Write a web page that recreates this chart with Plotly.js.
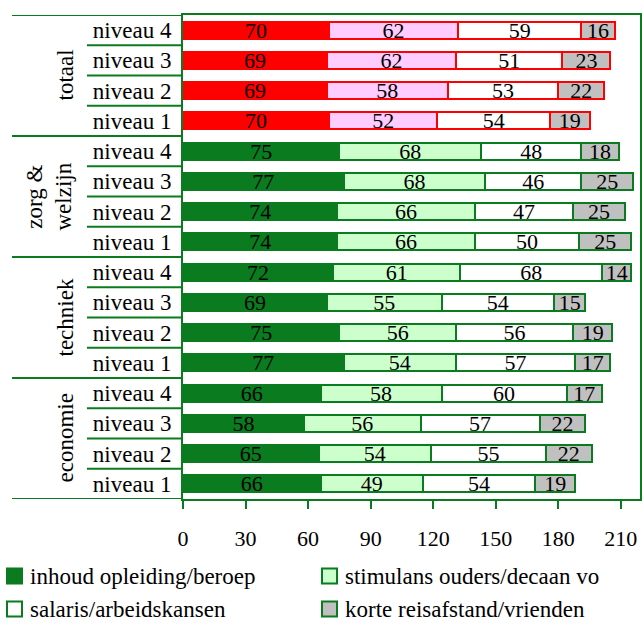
<!DOCTYPE html>
<html>
<head>
<meta charset="utf-8">
<script src="https://cdn.plot.ly/plotly-3.0.1.min.js"></script>
<style>html,body{margin:0;padding:0;background:#fff;}#chart{width:642px;height:623px;}</style>
</head>
<body>
<div id="chart"></div>
<script>
// ---- data (rows listed top to bottom as in the chart) ----
const groups = ['totaal', 'zorg & welzijn', 'techniek', 'economie'];
const groupLabels = ['totaal', 'zorg &<br>welzijn', 'techniek', 'economie'];
const levels = ['niveau 4', 'niveau 3', 'niveau 2', 'niveau 1'];
const seriesNames = ['inhoud opleiding/beroep', 'stimulans ouders/decaan vo', 'salaris/arbeidskansen', 'korte reisafstand/vrienden'];
const inhoud    = [70, 69, 69, 70,  75, 77, 74, 74,  72, 69, 75, 77,  66, 58, 65, 66];
const stimulans = [62, 62, 58, 52,  68, 68, 66, 66,  61, 55, 56, 54,  58, 56, 54, 49];
const salaris   = [59, 51, 53, 54,  48, 46, 47, 50,  68, 54, 56, 57,  60, 57, 55, 54];
const korte     = [16, 23, 22, 19,  18, 25, 25, 25,  14, 15, 19, 17,  17, 22, 22, 19];
const xTicks = [0, 30, 60, 90, 120, 150, 180, 210];

// ---- styling ----
const FONT = 'Liberation Serif, Times New Roman, serif';
const GREEN = '#0a7b1f';
const RED = '#ff0000';
const fillsGreen = [GREEN, '#ccffcc', '#ffffff', '#c0c0c0'];
const fillsRed = [RED, '#ffccff', '#ffffff', '#c0c0c0'];

// build row ids top-to-bottom, then plot bottom-to-top
const rowIds = [], rowLevels = [], rowGroup = [];
groups.forEach((g, gi) => levels.forEach(l => { rowIds.push(g + ' | ' + l); rowLevels.push(l); rowGroup.push(gi); }));
const order = rowIds.map((_, i) => rowIds.length - 1 - i); // bottom first
const ids = order.map(i => rowIds[i]);
const seriesVals = [inhoud, stimulans, salaris, korte];

const traces = seriesVals.map((vals, si) => {
  const v = order.map(i => vals[i]);
  const fill = order.map(i => rowGroup[i] === 0 ? fillsRed[si] : fillsGreen[si]);
  const line = order.map(i => rowGroup[i] === 0 ? RED : GREEN);
  return {
    type: 'bar', orientation: 'h', name: seriesNames[si],
    x: v, y: ids, width: 0.56,
    text: v.map(String), textposition: 'inside', insidetextanchor: 'middle',
    textangle: 0, constraintext: 'none', cliponaxis: false,
    textfont: {family: FONT, size: 22, color: '#000'},
    insidetextfont: {family: FONT, size: 22, color: '#000'},
    marker: {color: fill, line: {color: line, width: 2}},
    hoverinfo: 'skip', showlegend: false
  };
});

// pixel helpers for paper coordinates (plot area: x 183..640, y 15..499)
const L = 183, R = 2, T = 15, B = 124, W = 642, H = 623;
const PW = W - L - R, PH = H - T - B;
const px = p => (p - L) / PW;
const py = p => (H - B - p) / PH;

const shapes = [];
const n = ids.length;
// group dividers (long) and level dividers (short)
for (let k = 0; k <= n; k++) {
  const yb = k - 0.5;
  const isGroup = (k % 4 === 0);
  shapes.push({type: 'line', xref: 'paper', yref: 'y', x0: px(isGroup ? 12 : 87), x1: 0, y0: yb, y1: yb,
               line: {color: GREEN, width: 2}});
}
const annotations = [];
// group labels
groups.forEach((g, gi) => {
  const centerIdx = (groups.length - 1 - gi) * 4 + 1.5;
  annotations.push({xref: 'paper', yref: 'y', x: px(gi === 1 ? 49 : 65), y: centerIdx,
    text: groupLabels[gi], textangle: -90, showarrow: false, xanchor: 'center', yanchor: 'middle',
    font: {family: FONT, size: 23, color: '#000'}});
});
// legend (manual, two columns)
const legPos = [[7, 576], [322, 576], [7, 609], [322, 609]];
seriesNames.forEach((nm, si) => {
  const [lx, ly] = legPos[si];
  shapes.push({type: 'rect', xref: 'paper', yref: 'paper', x0: px(lx), x1: px(lx + 15), y0: py(ly - 7.5), y1: py(ly + 7.5),
               fillcolor: fillsGreen[si], line: {color: GREEN, width: 2}});
  annotations.push({xref: 'paper', yref: 'paper', x: px(lx + 22), y: py(ly), xanchor: 'left', yanchor: 'middle',
    text: nm, showarrow: false, borderpad: 0, font: {family: FONT, size: 23, color: '#000'}});
});

const layout = {
  width: W, height: H,
  margin: {l: L, r: R, t: T, b: B, pad: 0},
  paper_bgcolor: '#fff', plot_bgcolor: '#fff',
  barmode: 'stack', showlegend: false,
  font: {family: FONT, size: 22, color: '#000'},
  xaxis: {range: [0, 219.2], tickmode: 'array', tickvals: xTicks, ticktext: xTicks.map(String),
          ticks: 'outside', ticklen: 8, tickwidth: 2, tickcolor: GREEN, ticklabelstandoff: 11,
          showline: true, linecolor: GREEN, linewidth: 2, mirror: true,
          showgrid: false, zeroline: false, automargin: false, fixedrange: true,
          tickfont: {family: FONT, size: 22, color: '#000'}},
  yaxis: {type: 'category', categoryorder: 'array', categoryarray: ids, range: [-0.5, n - 0.5],
          tickmode: 'array', tickvals: ids, ticktext: order.map(i => rowLevels[i]),
          ticks: '', ticklabelstandoff: 5,
          showline: true, linecolor: GREEN, linewidth: 2, mirror: true,
          showgrid: false, zeroline: false, automargin: false, fixedrange: true,
          tickfont: {family: FONT, size: 23, color: '#000'}},
  shapes: shapes, annotations: annotations
};

Plotly.newPlot('chart', traces, layout, {staticPlot: true, displayModeBar: false});
</script>
</body>
</html>
